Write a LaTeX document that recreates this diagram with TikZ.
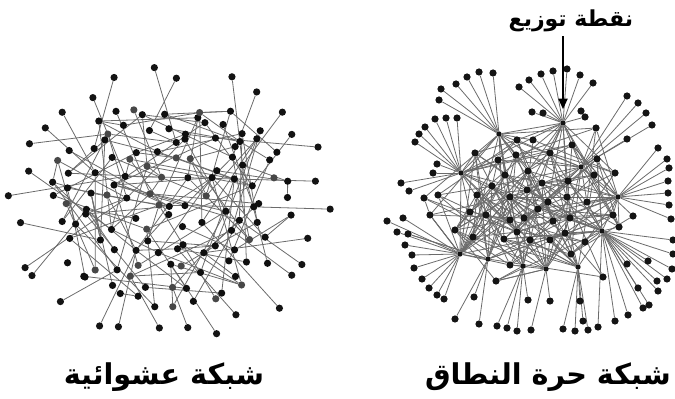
\documentclass[tikz,border=0pt]{standalone}
\usepackage{fontspec}
\newfontfamily\arabicfont[Script=Arabic]{DejaVu Sans}
\TeXXeTstate=1
\usetikzlibrary{arrows.meta}

\pgfdeclarelayer{edges}
\pgfsetlayers{edges,main}

\newcount\vtxcount
% keep the place of a vertex so a link can test its length
\newcommand\keepxy[3]{%
  \expandafter\xdef\csname vx#1\endcsname{#2}%
  \expandafter\xdef\csname vy#1\endcsname{#3}}
% link two vertices when they lie less than #3 apart
\newcommand\linkif[3]{%
  \pgfmathparse{veclen(\csname vx#1\endcsname-\csname vx#2\endcsname,\csname vy#1\endcsname-\csname vy#2\endcsname)}%
  \ifdim\pgfmathresult pt<#3pt\relax\draw[link] (#1) -- (#2);\fi}

\tikzset{
  vertex/.style={circle,fill=black!92,draw=none,inner sep=0pt,minimum size=5.4pt},
  link/.style={draw=black!58,line width=0.6pt},
  netname/.style={font=\arabicfont\bfseries\fontsize{21.5}{24}\selectfont,inner sep=0pt},
  tagname/.style={font=\arabicfont\bfseries\fontsize{16.5}{19}\selectfont,inner sep=0pt},
  pointer/.style={-{Triangle[length=8pt,width=6.5pt]},line width=1.9pt}
}

\begin{document}
\begin{tikzpicture}[x=0.75pt,y=0.75pt,yscale=-1,xscale=1]
\useasboundingbox (0,0) rectangle (675,399);

%Random network: shaken grid of vertices inside an ellipse
\pgfmathsetseed{4242}
\global\vtxcount=0
\foreach \gx in {-6,...,6}{
  \foreach \gy in {-5,...,5}{
    \pgfmathsetmacro\ex{\gx*19+9*(2*rnd-1)}
    \pgfmathsetmacro\ey{\gy*19+9*(2*rnd-1)}
    \pgfmathtruncatemacro\inside{(\ex/126)*(\ex/126)+(\ey/106)*(\ey/106)<1}
    \ifnum\inside=1
      \global\advance\vtxcount by 1
      \edef\k{\the\vtxcount}
      \pgfmathsetmacro\px{170+\ex}
      \pgfmathsetmacro\py{204+\ey}
      \pgfmathtruncatemacro\tone{rnd<0.25 ? 72 : 94}
      \keepxy{a\k}{\px}{\py}
      \node[vertex,fill=black!\tone] (a\k) at (\px,\py) {};
    \fi
  }
}
\edef\na{\the\vtxcount}

%Random network: outer vertices
\foreach \k in {1,...,30}{
  \pgfmathsetmacro\ang{\k*12+5*(2*rnd-1)}
  \pgfmathsetmacro\rr{1.12+0.17*rnd}
  \pgfmathsetmacro\px{170+128*\rr*cos(\ang)}
  \pgfmathsetmacro\py{204-108*\rr*sin(\ang)}
  \pgfmathsetmacro\aim{\ang+40*(2*rnd-1)}
  \pgfmathsetmacro\deep{0.35+0.45*rnd}
  \keepxy{t\k}{170+128*\deep*cos(\aim)}{204-108*\deep*sin(\aim)}
  \node[vertex] (b\k) at (\px,\py) {};
}
\foreach \k in {1,...,30}{
  \pgfmathsetmacro\tx{\csname vxt\k\endcsname}
  \pgfmathsetmacro\ty{\csname vyt\k\endcsname}
  \keepxy{t\k}{\tx}{\ty}
}

\begin{pgfonlayer}{edges}
\foreach \k in {1,...,\na}{
  \foreach \t in {1,2}{
    \pgfmathrandominteger{\j}{1}{\na}
    \ifnum\j=\k\else\linkif{a\k}{a\j}{115}\fi
  }
}
\foreach \k in {1,...,30}{
  \gdef\best{a1}\gdef\bestd{9999}
  \foreach \j in {1,...,\na}{
    \pgfmathparse{veclen(\csname vxa\j\endcsname-\csname vxt\k\endcsname,\csname vya\j\endcsname-\csname vyt\k\endcsname)}
    \ifdim\pgfmathresult pt<\bestd pt\relax
      \xdef\bestd{\pgfmathresult}\xdef\best{a\j}
    \fi
  }
  \draw[link] (b\k) -- (\best);
}
\end{pgfonlayer}

%Scale-free network: hubs
\foreach \h/\x/\y in {1/563/123, 2/499/134, 3/461/173, 4/460/254, 5/581/167, 6/618/197,
    7/602/231, 8/523/266, 9/578/267, 10/488/259, 11/546/269}{
  \keepxy{h\h}{\x}{\y}
  \node[vertex,minimum size=4pt] (h\h) at (\x,\y) {};
}

%Scale-free network: core vertices
\global\vtxcount=0
\foreach \x/\y [count=\k] in {498/160, 516/155, 528/171, 550/153, 572/145, 596/128, 597/159,
    594/175, 615/173, 475/153, 492/186, 510/197, 527/190, 542/183, 568/181, 567/197, 587/202,
    548/202, 538/209, 524/218, 510/220, 486/215, 470/212, 438/195, 430/215, 424/198, 477/195,
    473/237, 504/239, 517/232, 530/240, 550/240, 565/233, 585/242, 613/215, 633/216, 619/227,
    571/254, 510/265, 496/281, 570/218, 553/221, 505/175, 603/277, 455/230, 517/140, 533/140,
    408/234}{
  \global\vtxcount=\k
  \keepxy{c\k}{\x}{\y}
  \node[vertex] (c\k) at (\x,\y) {};
}
\edef\nc{\the\vtxcount}
\pgfmathtruncatemacro\ntot{\nc+11}

%Scale-free network: rim vertices, each hung on its hub
\foreach \x/\y/\h [count=\k] in {
    441/89/2, 456/84/2, 467/77/2, 479/72/2, 493/73/2, 439/100/2,
    435/119/3, 446/118/3, 457/118/3, 425/127/3, 419/134/3, 415/142/3, 437/164/3, 433/173/3, 401/183/3, 409/191/3,
    519/87/1, 529/80/1, 541/74/1, 553/71/1, 567/69/1, 580/75/1, 593/83/1, 532/112/1, 543/113/1, 585/117/1,
    627/96/5, 638/103/5, 646/113/5, 652/125/5, 627/139/5,
    658/148/6, 667/159/6, 669/168/6, 668/181/6, 668/193/6, 669/205/6, 671/219/6,
    673/240/7, 673/254/7, 672/269/7, 667/279/7, 657/281/7, 658/291/7, 648/261/7, 627/264/7, 638/288/7,
    387/221/4, 403/218/4, 397/232/4, 405/245/4, 412/255/4, 414/268/4, 422/279/4, 429/288/4, 437/295/4, 444/299/4,
    455/319/10, 474/297/10, 479/324/10, 497/326/8, 507/328/8, 517/331/8, 528/300/8, 531/330/11, 550/301/11,
    563/329/9, 575/331/9, 580/301/9, 583/321/9, 588/330/9,
    598/327/7, 615/321/7, 628/315/7, 643/308/7, 649/305/7}{
  \node[vertex] (l\k) at (\x,\y) {};
  \begin{pgfonlayer}{edges}
    \draw[link] (l\k) -- (h\h);
  \end{pgfonlayer}
}
\node[vertex] (twin) at (581,111) {};

\pgfmathsetseed{777}
\begin{pgfonlayer}{edges}
\draw[link] (twin) -- (l26);
\foreach \k in {1,...,\nc}{
  \foreach \t in {1,2,3,4}{
    \pgfmathrandominteger{\j}{1}{\ntot}
    \ifnum\j>\nc \pgfmathtruncatemacro\hh{\j-\nc}\edef\other{h\hh}\else\edef\other{c\j}\fi
    \ifnum\j=\k\else\linkif{c\k}{\other}{100}\fi
  }
}
% hubs reach into the core
\foreach \h in {1,...,11}{
  \foreach \k in {1,...,\nc}{
    \pgfmathtruncatemacro\pick{rnd<0.3}
    \ifnum\pick=1 \linkif{h\h}{c\k}{120}\fi
  }
}
\foreach \p/\q in {1/2,1/5,2/3,3/4,5/6,6/7,1/3,2/5,4/10,7/9}{
  \draw[link] (h\p) -- (h\q);
}
\end{pgfonlayer}

% Text Node
\node[tagname] (tag) at (571,21) {\beginR نقطة توزيع\endR};
\draw[pointer,shorten <=3pt,shorten >=8pt] (h1 |- tag.south) -- (h1);

% Text Node
\node[netname] (randomname) at (164,377) {\beginR شبكة عشوائية\endR};
% Text Node
\node[netname] (scalefreename) at (548,377) {\beginR شبكة حرة النطاق\endR};

\end{tikzpicture}
\end{document}
